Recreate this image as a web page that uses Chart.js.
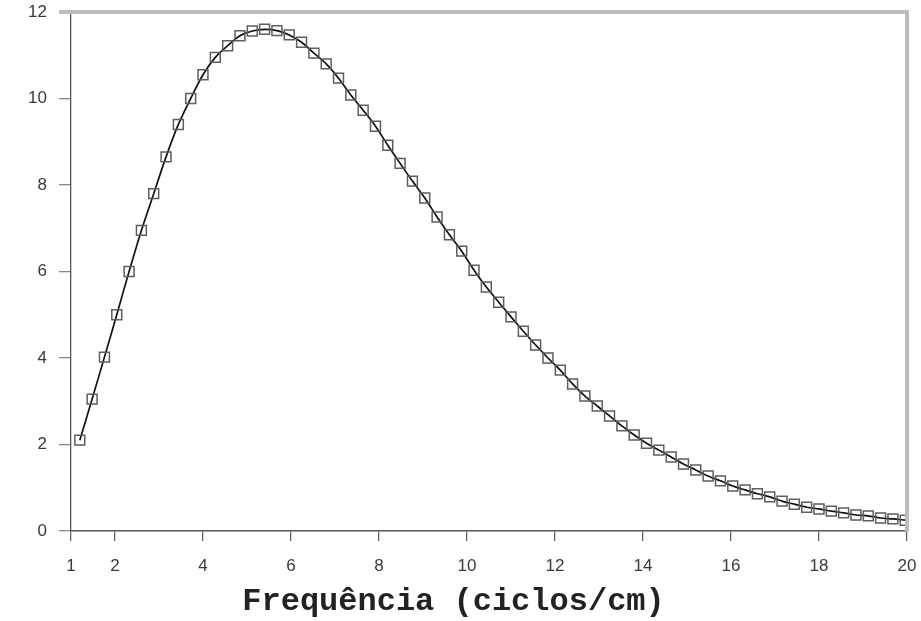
<!DOCTYPE html>
<html>
<head>
<meta charset="utf-8">
<script src="https://cdn.jsdelivr.net/npm/chart.js@4/dist/chart.umd.min.js"></script>
<style>
  html, body { margin: 0; padding: 0; background: #fff; }
  #wrap { width: 921px; height: 621px; }
</style>
</head>
<body>
<div id="wrap"><canvas id="myChart"></canvas></div>
<script>
let ctx = document.getElementById('myChart').getContext('2d');

// values
const freq = [1.2, 1.48, 1.76, 2.04, 2.32, 2.6, 2.88, 3.16, 3.44, 3.72,
  4.0, 4.28, 4.56, 4.84, 5.12, 5.4, 5.68, 5.96, 6.24, 6.52,
  6.8, 7.08, 7.36, 7.64, 7.92, 8.2, 8.48, 8.76, 9.04, 9.32,
  9.6, 9.88, 10.16, 10.44, 10.72, 11.0, 11.28, 11.56, 11.84, 12.12,
  12.4, 12.68, 12.96, 13.24, 13.52, 13.8, 14.08, 14.36, 14.64, 14.92,
  15.2, 15.48, 15.76, 16.04, 16.32, 16.6, 16.88, 17.16, 17.44, 17.72,
  18.0, 18.28, 18.56, 18.84, 19.12, 19.4, 19.68, 19.96];
const amp = [2.1, 3.05, 4.02, 5.0, 6.0, 6.95, 7.8, 8.65, 9.4, 10.0,
  10.55, 10.95, 11.22, 11.45, 11.56, 11.6, 11.57, 11.47, 11.3, 11.05,
  10.8, 10.47, 10.08, 9.73, 9.36, 8.92, 8.5, 8.09, 7.7, 7.26,
  6.85, 6.47, 6.03, 5.64, 5.29, 4.95, 4.62, 4.3, 4.0, 3.72,
  3.4, 3.12, 2.89, 2.66, 2.43, 2.22, 2.03, 1.87, 1.71, 1.55,
  1.41, 1.27, 1.16, 1.04, 0.95, 0.86, 0.79, 0.69, 0.62, 0.55,
  0.51, 0.46, 0.42, 0.37, 0.35, 0.3, 0.28, 0.25];
const xTicks = [1, 2, 4, 6, 8, 10, 12, 14, 16, 18, 20];
const yTicks = [0, 2, 4, 6, 8, 10, 12];

const points = freq.map((f, i) => ({ x: f, y: amp[i] }));

// light grey frame on top and right of the plot
const frame = {
  id: 'frame',
  afterDatasetsDraw(chart) {
    const a = chart.chartArea;
    const c = chart.ctx;
    c.save();
    c.strokeStyle = '#bdbdbd';
    c.lineWidth = 4;
    c.beginPath();
    c.moveTo(a.left - 12, a.top);
    c.lineTo(a.right, a.top);
    c.lineTo(a.right, a.bottom);
    c.stroke();
    c.restore();
  }
};

const tickFont = { family: 'Liberation Sans, Arial, sans-serif', size: 17 };

const config = {
  type: 'line',
  data: {
    datasets: [{
      data: points,
      borderColor: '#111',
      borderWidth: 1.7,
      tension: 0.3,
      pointStyle: 'rect',
      pointRadius: 7,
      pointBorderColor: '#5e5e5e',
      pointBorderWidth: 1.5,
      pointBackgroundColor: 'rgba(255,255,255,0)',
      fill: false
    }]
  },
  options: {
    responsive: true,
    maintainAspectRatio: false,
    animation: false,
    layout: { padding: { left: 0, right: 14, top: 12, bottom: 0 } },
    plugins: {
      legend: { display: false },
      tooltip: { enabled: false },
      title: {
        display: true,
        position: 'bottom',
        text: 'Frequência (ciclos/cm)',
        color: '#222',
        font: { family: 'Liberation Mono, Courier New, monospace', size: 32, weight: 'bold' },
        padding: { top: 4, bottom: 0 }
      }
    },
    scales: {
      x: {
        type: 'linear',
        min: 1,
        max: 20,
        afterBuildTicks: axis => { axis.ticks = xTicks.map(v => ({ value: v })); },
        afterFit: axis => {
          axis.height = 47.6;
          axis.paddingLeft = 0;
          axis.paddingRight = 0;
        },
        ticks: { color: '#3a3a3a', font: tickFont, padding: 15, maxRotation: 0 },
        grid: { drawOnChartArea: false, drawTicks: true, tickLength: 10, color: '#666', lineWidth: 1.3 },
        border: { color: '#555', width: 1.5 }
      },
      y: {
        min: 0,
        max: 12,
        afterBuildTicks: axis => { axis.ticks = yTicks.map(v => ({ value: v })); },
        afterFit: axis => {
          axis.width = 71;
          axis.paddingTop = 0;
          axis.paddingBottom = 0;
        },
        ticks: { color: '#3a3a3a', font: tickFont, padding: 12 },
        grid: { drawOnChartArea: false, drawTicks: true, tickLength: 12, color: '#888', lineWidth: 1.3 },
        border: { color: '#555', width: 1.3 }
      }
    }
  },
  plugins: [frame]
};

let massChart = new Chart(ctx, config);
</script>
</body>
</html>
